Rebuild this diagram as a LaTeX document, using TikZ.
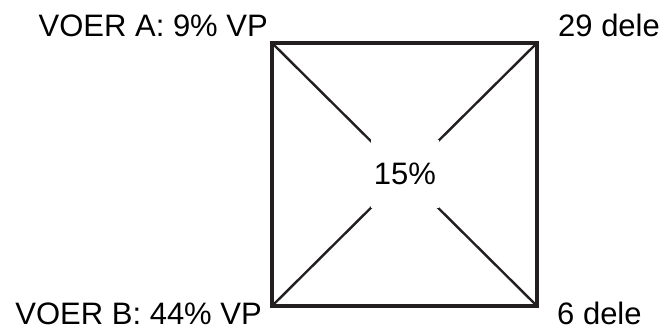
\documentclass[tikz,border=0pt]{standalone}
\usepackage{fontspec}
\setmainfont{Liberation Sans}
\usetikzlibrary{positioning}
\definecolor{sqdark}{HTML}{231F20}

\begin{document}
\begin{tikzpicture}[x=1pt,y=1pt,
  lab/.style={inner sep=0pt, font=\fontsize{31}{37}\selectfont},
  frame/.style={draw=sqdark, line width=3.4pt, line join=miter},
  diag/.style={draw=sqdark, line width=2.4pt},
  mid/.style={fill=white, inner sep=0pt, minimum width=68pt, minimum height=68pt, font=\fontsize{31}{37}\selectfont}]
\useasboundingbox (0,0) rectangle (665,327);
\coordinate (tl) at (272,284);
\coordinate (tr) at (537,284);
\coordinate (bl) at (272,21);
\coordinate (br) at (537,21);
\draw[diag] (tl) -- (br);
\draw[diag] (bl) -- (tr);
\node[mid] (pct) at (405,153) {15\%};
\draw[frame] (tl) -- (tr) -- (br) -- (bl) -- cycle;
\node[lab, anchor=base east] (voera) at (268,290) {VOER A: 9\% VP};
\node[lab, anchor=base west] (delea) at (558,290) {29 dele};
\node[lab, anchor=base east] (voerb) at (262,2.5) {VOER B: 44\% VP};
\node[lab, anchor=base west] (deleb) at (557,2.5) {6 dele};
\end{tikzpicture}
\end{document}
